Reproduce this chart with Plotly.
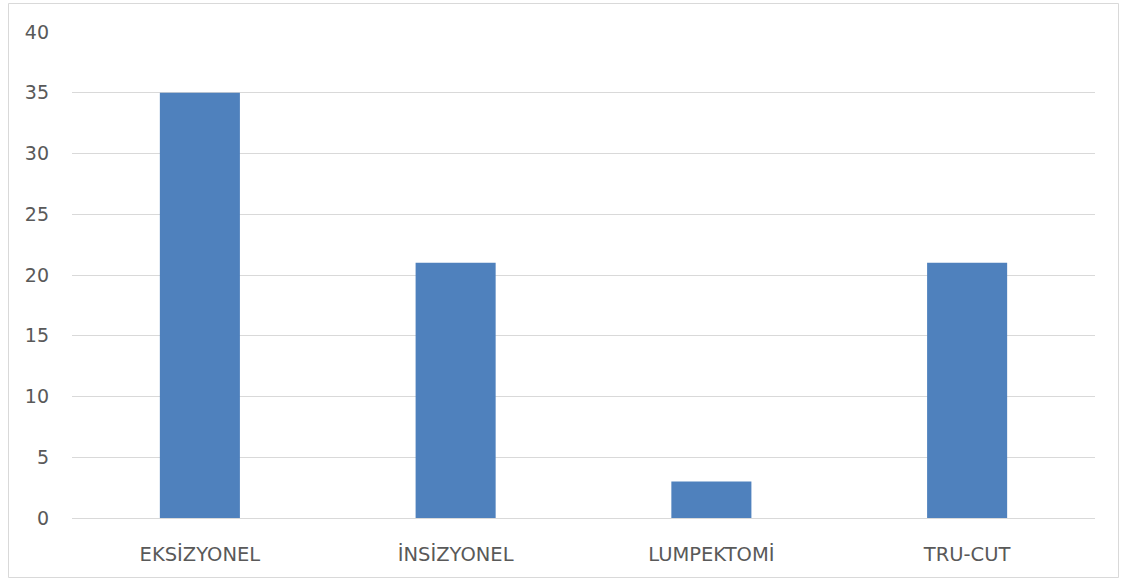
import plotly.graph_objects as go

categories = ["EKSİZYONEL", "İNSİZYONEL", "LUMPEKTOMİ", "TRU-CUT"]
values = [35, 21, 3, 21]
y_ticks = [0, 5, 10, 15, 20, 25, 30, 35, 40]

W, H = 1123, 581
L, R, T, B = 72, 28, 32, 63
pw, ph = W - L - R, H - T - B

def px_x(p):
    return (p - L) / pw

def px_y(p):
    return (H - B - p) / ph

fig = go.Figure(go.Bar(
    x=categories, y=values,
    marker=dict(color="#4F81BD", line=dict(width=0)),
    width=0.313,
))

fig.update_layout(
    width=W, height=H,
    margin=dict(l=L, r=R, t=T, b=B),
    paper_bgcolor="white", plot_bgcolor="white",
    font=dict(family="DejaVu Sans, sans-serif", size=18, color="#595959"),
    showlegend=False,
    xaxis=dict(
        showgrid=False, showline=True, linecolor="#D9D9D9", linewidth=1,
        ticks="", ticklabelstandoff=19, tickfont=dict(size=19.5),
    ),
    yaxis=dict(
        range=[0, 40], tickvals=y_ticks, showgrid=True, gridcolor="#D9D9D9",
        gridwidth=1, zeroline=False, showline=False, ticks="",
        ticklabelstandoff=22, tickfont=dict(size=19),
    ),
    shapes=[dict(
        type="rect", xref="paper", yref="paper",
        x0=px_x(8.5), x1=px_x(1118.5), y0=px_y(577.5), y1=px_y(3.5),
        line=dict(color="#D9D9D9", width=1), fillcolor="rgba(0,0,0,0)",
        layer="below",
    )],
)

fig.write_html("out.html")
